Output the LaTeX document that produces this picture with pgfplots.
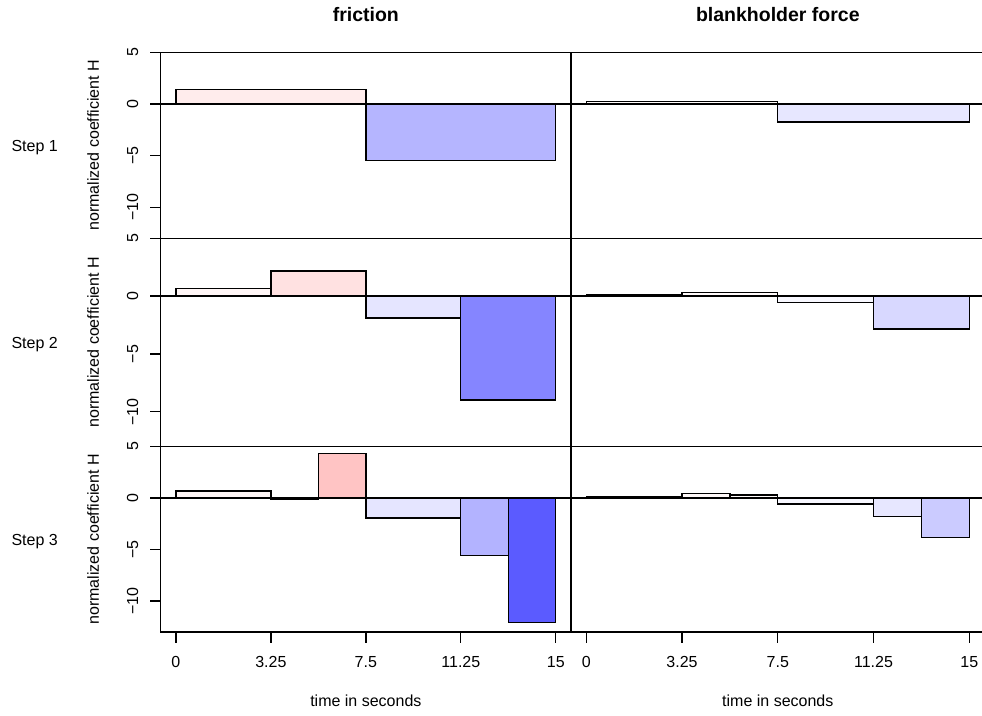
\documentclass[border=0pt]{standalone}
\usepackage{fontspec}
\setmainfont{Liberation Sans}
\usepackage{pgfplots}
\pgfplotsset{compat=1.18}

% one bar of the step function: from x0 to x1 with height v
\newcommand{\hbin}[4]{\addplot[draw=black, line width=1.3pt, fill=#4] coordinates {(#1,0) (#1,#3) (#2,#3) (#2,0)} -- cycle;}
\newcommand{\zeroline}{\addplot[black, line width=1.3pt] coordinates {(-0.6,0) (15.6,0)};}

\pgfplotsset{
  panel/.style={
    scale only axis, anchor=south west,
    xmin=-0.6, xmax=15.6, ymin=-13, ymax=5,
    axis line style={line width=1.3pt},
    every tick/.style={black, line width=1.3pt},
    tick align=outside, major tick length=10.5pt,
    xtick pos=bottom, ytick pos=left,
    /pgf/number format/assume math mode=true,
    tick label style={font=\fontsize{16}{16}\selectfont},
    xtick=\empty, ytick=\empty,
    title style={font=\fontsize{19.5}{20}\selectfont\bfseries, at={(axis description cs:0.5,1)}, anchor=base, yshift=24.8pt},
  },
  leftpanel/.style={panel, width=410.3pt,
    ytick={-10,-5,0,5}, yticklabels={−10,−5,0,5},
    yticklabel style={rotate=90, anchor=base, inner sep=0pt},
    yticklabel shift=12pt,
    ylabel={normalized coefficient H},
    ylabel style={font=\fontsize{16}{16}\selectfont, at={(axis description cs:-0.1504,0.5)}, anchor=base, rotate=0},
  },
  rightpanel/.style={panel, width=413.6pt},
  bottomrow/.style={
    xtick={0,3.75,7.5,11.25,15}, xticklabels={0,3.25,7.5,11.25,15},
    xticklabel style={anchor=base, inner sep=0pt},
    xticklabel shift=25pt,
    xlabel={time in seconds},
    xlabel style={font=\fontsize{16}{16}\selectfont, at={(axis description cs:0.5,-0.4043)}, anchor=base},
  },
}

\begin{document}
\begin{tikzpicture}
\path[use as bounding box] (0,0) rectangle (982pt,715pt);
\clip (0,0) rectangle (982pt,715pt);

% ---- Step 1 ----
\begin{axis}[leftpanel, at={(160.7pt,476.7pt)}, height=186pt, title={friction}]
\hbin{0}{7.5}{1.42}{red!7.6}
\hbin{7.5}{15}{-5.45}{blue!29}
\zeroline
\end{axis}
\begin{axis}[rightpanel, at={(571pt,476.7pt)}, height=186pt, title={blankholder force}]
\hbin{0}{7.5}{0.26}{red!1.4}
\hbin{7.5}{15}{-1.74}{blue!9.3}
\zeroline
\end{axis}

% ---- Step 2 ----
\begin{axis}[leftpanel, at={(160.7pt,268.5pt)}, height=208.2pt]
\hbin{0}{3.75}{0.66}{red!3.5}
\hbin{3.75}{7.5}{2.18}{red!11.6}
\hbin{7.5}{11.25}{-1.9}{blue!10.1}
\hbin{11.25}{15}{-8.99}{blue!48}
\zeroline
\end{axis}
\begin{axis}[rightpanel, at={(571pt,268.5pt)}, height=208.2pt]
\hbin{0}{3.75}{0.17}{red!0.9}
\hbin{3.75}{7.5}{0.34}{red!1.8}
\hbin{7.5}{11.25}{-0.55}{blue!2.9}
\hbin{11.25}{15}{-2.84}{blue!15.1}
\zeroline
\end{axis}

% ---- Step 3 ----
\begin{axis}[leftpanel, bottomrow, at={(160.7pt,83pt)}, height=185.5pt]
\hbin{0}{3.75}{0.68}{red!3.6}
\hbin{3.75}{5.625}{-0.13}{blue!0.7}
\hbin{5.625}{7.5}{4.32}{red!23}
\hbin{7.5}{11.25}{-1.93}{blue!10.3}
\hbin{11.25}{13.125}{-5.57}{blue!29.7}
\hbin{13.125}{15}{-12.1}{blue!64.5}
\zeroline
\end{axis}
\begin{axis}[rightpanel, bottomrow, at={(571pt,83pt)}, height=185.5pt]
\hbin{0}{3.75}{0.15}{red!0.8}
\hbin{3.75}{5.625}{0.45}{red!2.4}
\hbin{5.625}{7.5}{0.29}{red!1.5}
\hbin{7.5}{11.25}{-0.58}{blue!3.1}
\hbin{11.25}{13.125}{-1.8}{blue!9.6}
\hbin{13.125}{15}{-3.83}{blue!20.4}
\zeroline
\end{axis}

\node[font=\fontsize{16}{16}\selectfont, anchor=base] at (34.7pt,563.7pt) {Step 1};
\node[font=\fontsize{16}{16}\selectfont, anchor=base] at (34.7pt,366.6pt) {Step 2};
\node[font=\fontsize{16}{16}\selectfont, anchor=base] at (34.7pt,169.8pt) {Step 3};
\end{tikzpicture}
\end{document}
